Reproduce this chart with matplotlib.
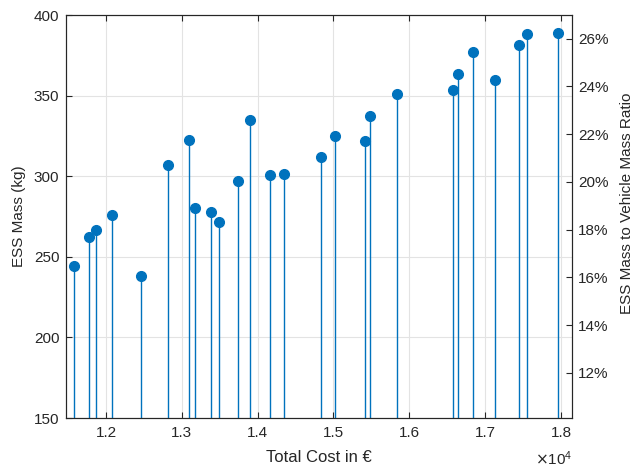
import matplotlib
matplotlib.use("Agg")
import matplotlib.pyplot as plt
from matplotlib.ticker import FuncFormatter, MultipleLocator

plt.rcParams["font.family"] = ["Liberation Sans", "DejaVu Sans"]

# total cost (EUR) and ESS mass (kg) for each design point
total_cost = [11582, 11780, 11864, 12075, 12462, 12814, 13098, 13171, 13382,
              13490, 13738, 13903, 14167, 14347, 14835, 15024, 15415, 15481,
              15841, 16580, 16638, 16840, 17126, 17446, 17548, 17960]
ess_mass = [244.6, 262.6, 266.7, 276.2, 238.3, 307.1, 322.8, 280.2, 277.8,
            271.7, 296.9, 335.0, 300.9, 301.7, 312.0, 324.8, 322.0, 337.3,
            351.0, 353.6, 363.4, 377.4, 359.8, 381.6, 388.2, 389.0]
vehicle_mass = 1483.0  # kg, used to scale the ratio axis

ratio_ticks = [12, 14, 16, 18, 20, 22, 24, 26]
cost_ticks = [12000, 13000, 14000, 15000, 16000, 17000, 18000]

blue = "#0072BD"
dark = "#262626"
grid_c = "#E3E3E3"

fig = plt.figure(figsize=(6.34, 4.70), dpi=100)
ax = fig.add_axes([0.1036, 0.1106, 0.7986, 0.8568])

ax.vlines(total_cost, 150, ess_mass, color=blue, linewidth=1.0, zorder=2)
ax.plot(total_cost, ess_mass, "o", color=blue, markersize=7, zorder=3)

ax.set_xlim(11469, 18145)
ax.set_ylim(150, 400)
ax.set_xticks(cost_ticks)
ax.xaxis.set_major_formatter(FuncFormatter(lambda v, p: f"{v / 1e4:.1f}"))
ax.yaxis.set_major_locator(MultipleLocator(50))
ax.grid(True, color=grid_c, linewidth=0.8, zorder=0)
ax.set_axisbelow(True)
ax.tick_params(direction="in", length=4, width=0.8, colors=dark,
               labelsize=11, top=True, right=False)
ax.tick_params(axis="x", pad=6)
ax.tick_params(axis="y", pad=4.5)
for s in ax.spines.values():
    s.set_color(dark)
    s.set_linewidth(0.8)

ax.set_xlabel("Total Cost in €", fontsize=12, color=dark, labelpad=7)
ax.set_ylabel("ESS Mass (kg)", fontsize=11, color=dark, labelpad=6)
ax.text(1.0, -0.125, r"$\times\mathregular{10^4}$", transform=ax.transAxes,
        ha="right", va="bottom", fontsize=11, color=dark)

ax2 = ax.twinx()
ax2.set_ylim(150 / vehicle_mass * 100, 400 / vehicle_mass * 100)
ax2.set_yticks(ratio_ticks)
ax2.yaxis.set_major_formatter(FuncFormatter(lambda v, p: f"{v:.0f}%"))
ax2.tick_params(direction="in", length=4, width=0.8, colors=dark, labelsize=11, pad=4.5)
for s in ax2.spines.values():
    s.set_color(dark)
    s.set_linewidth(0.8)
ax2.set_ylabel("ESS Mass to Vehicle Mass Ratio", fontsize=11, color=dark)
ax2.yaxis.set_label_coords(1.095, 0.533)

fig.savefig("out.png", dpi=100)
